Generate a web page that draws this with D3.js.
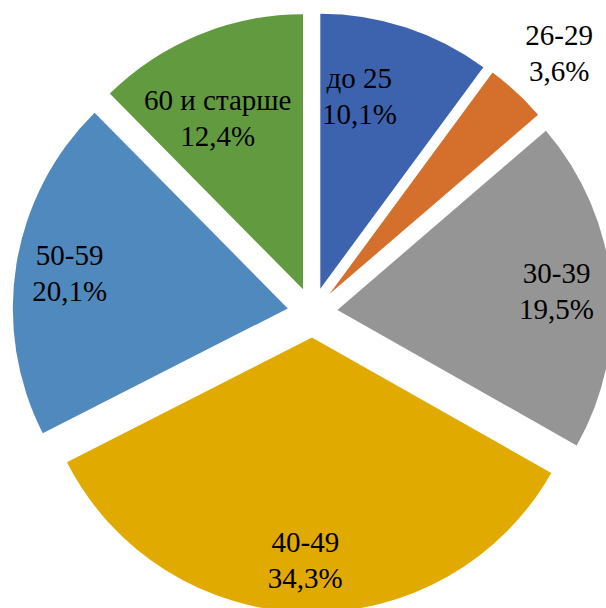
<!DOCTYPE html>
<html>
<head>
<meta charset="utf-8">
<script src="https://cdn.jsdelivr.net/npm/d3@7"></script>
<style>
  html, body { margin: 0; padding: 0; background: #fff; }
  svg { display: block; }
  text { font-family: "Liberation Serif", Tinos, "Times New Roman", Times, "Noto Serif", "DejaVu Serif", FreeSerif, serif; }
</style>
</head>
<body>
<svg id="chart" width="606" height="608"></svg>
<script>
// age groups and their shares, %
const categories = ['до 25', '26-29', '30-39', '40-49', '50-59', '60 и старше'];
const shares = [10.1, 3.6, 19.5, 34.3, 20.1, 12.4];
const shareLabels = ['10,1%', '3,6%', '19,5%', '34,3%', '20,1%', '12,4%'];
const colors = ['#3d63ae', '#d4702b', '#959595', '#e1aa00', '#4f89bd', '#629b3f'];

const svg = d3.select('#chart'),
  cx = 312.5,
  cy = 312.4,
  radius = 275,
  explode = 25;

// label placement: radius from pie centre and angle shift (deg) from slice mid-angle
const labelPlace = [
  { r: 222, da: -6.0 },
  { r: 358, da: 0.7 },
  { r: 245, da: 0.6 },
  { r: 248, da: 0.4 },
  { r: 246, da: 0 },
  { r: 216, da: -3.7 }
];

const pie = d3.pie().sort(null).value((d) => d.value);
const arc = d3.arc().innerRadius(0).outerRadius(radius);

const data = categories.map((c, i) => ({ name: c, value: shares[i], label: shareLabels[i], i }));
const arcs = pie(data);

const g = svg.append('g').attr('transform', `translate(${cx}, ${cy})`);

g.selectAll('path')
  .data(arcs)
  .enter()
  .append('path')
  .attr('d', arc)
  .attr('fill', (d) => colors[d.data.i])
  .attr('transform', (d) => {
    const a = (d.startAngle + d.endAngle) / 2;
    return `translate(${explode * Math.sin(a)}, ${-explode * Math.cos(a)})`;
  });

const lineGap = 36;
const labels = g.selectAll('text')
  .data(arcs)
  .enter()
  .append('text')
  .style('font-size', '29px')
  .attr('fill', '#000')
  .attr('text-anchor', 'middle')
  .attr('transform', (d) => {
    const p = labelPlace[d.data.i];
    const a = (d.startAngle + d.endAngle) / 2 + (p.da * Math.PI) / 180;
    return `translate(${p.r * Math.sin(a)}, ${-p.r * Math.cos(a)})`;
  });

labels.append('tspan')
  .attr('x', 0)
  .attr('y', -lineGap / 2)
  .attr('dy', '0.35em')
  .text((d) => d.data.name);

labels.append('tspan')
  .attr('x', 0)
  .attr('y', lineGap / 2)
  .attr('dy', '0.35em')
  .text((d) => d.data.label);
</script>
</body>
</html>
